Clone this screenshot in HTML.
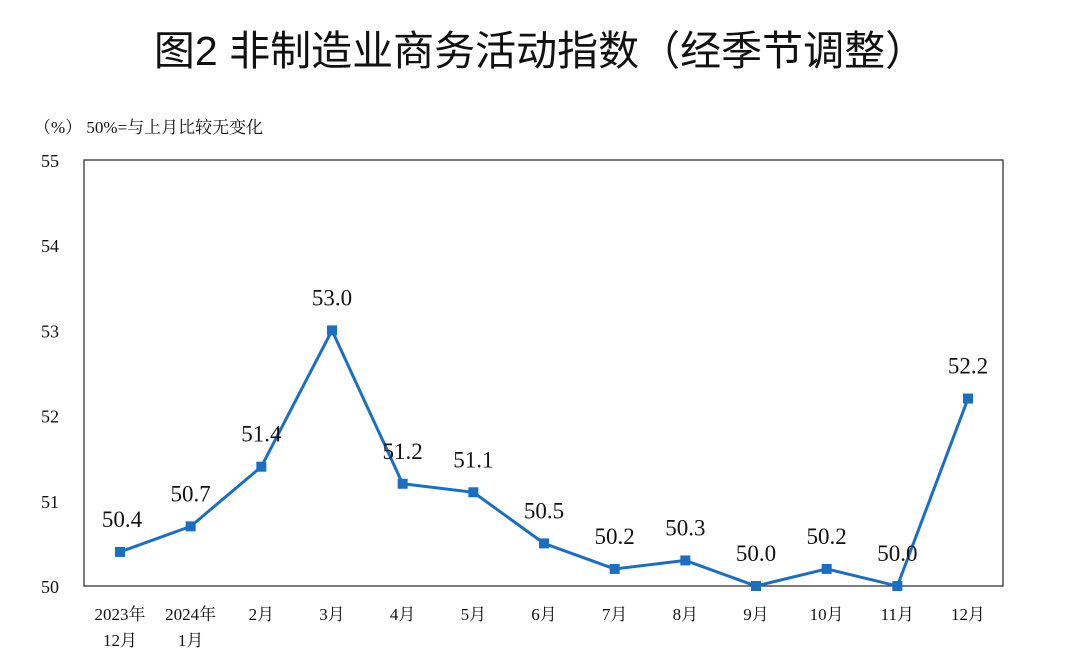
<!DOCTYPE html>
<html><head><meta charset="utf-8">
<style>
html,body{margin:0;padding:0;background:#fff;}
svg{display:block;}
</style></head>
<body>
<svg id="chart" width="1080" height="670" xmlns="http://www.w3.org/2000/svg">
<text x="540" y="65" text-anchor="middle" font-family="'Liberation Sans','Noto Sans CJK SC',sans-serif" font-size="41" fill="#111">图2  非制造业商务活动指数（经季节调整）</text>
<text x="34" y="133" font-family="'Liberation Serif','Noto Serif CJK SC',serif" font-size="17" fill="#111">（%）  50%=与上月比较无变化</text>
<rect x="84" y="160" width="919" height="426" fill="none" stroke="#222" stroke-width="1.2"/>
<g id="yaxis"></g><g id="xaxis"></g><g id="series"></g>
</svg>
<script>
const categories1 = ["2023年","2024年","2月","3月","4月","5月","6月","7月","8月","9月","10月","11月","12月"];
const categories2 = ["12月","1月","","","","","","","","","","",""];
const values = [50.4,50.7,51.4,53.0,51.2,51.1,50.5,50.2,50.3,50.0,50.2,50.0,52.2];
const yTicks = [50,51,52,53,54,55];
const NS="http://www.w3.org/2000/svg";
const x0=120,x1=968,yMin=50,yMax=55,py0=586,py1=160;
const xs=i=>x0+(x1-x0)*i/(values.length-1);
const ys=v=>py0-(v-yMin)/(yMax-yMin)*(py0-py1);
function mk(tag,attrs,parent,txt){const e=document.createElementNS(NS,tag);for(const k in attrs)e.setAttribute(k,attrs[k]);if(txt!==undefined)e.textContent=txt;parent.appendChild(e);return e;}
const serif="'Liberation Serif','Noto Serif CJK SC',serif";
const ya=document.getElementById('yaxis');
yTicks.forEach(t=>{
  const e=mk('text',{x:50,y:ys(t)+7,'text-anchor':'middle','font-family':serif,'font-size':18,fill:'#111'},ya,String(t));
  
  
});
const xa=document.getElementById('xaxis');
categories1.forEach((c,i)=>{
  const e=mk('text',{x:xs(i),y:620,'text-anchor':'middle','font-family':serif,'font-size':17,fill:'#111'},xa,c);
  
  
  if(categories2[i]){
    const f=mk('text',{x:xs(i),y:646,'text-anchor':'middle','font-family':serif,'font-size':17,fill:'#111'},xa,categories2[i]);
    
    
  }
});
const s=document.getElementById('series');
const pts=values.map((v,i)=>xs(i)+','+ys(v)).join(' ');
const line=mk('polyline',{points:pts,fill:'none',stroke:'#1a6fc4','stroke-width':3},s);


values.forEach((v,i)=>{
  const r=mk('rect',{x:xs(i)-5,y:ys(v)-5,width:10,height:10,fill:'#1a6fc4'},s);
  
  
  const t=mk('text',{x:xs(i)+(i===0?2:0),y:ys(v)-25,'text-anchor':'middle','font-family':serif,'font-size':23,fill:'#111'},s,v.toFixed(1));
  
  
});
</script>
</body></html>
